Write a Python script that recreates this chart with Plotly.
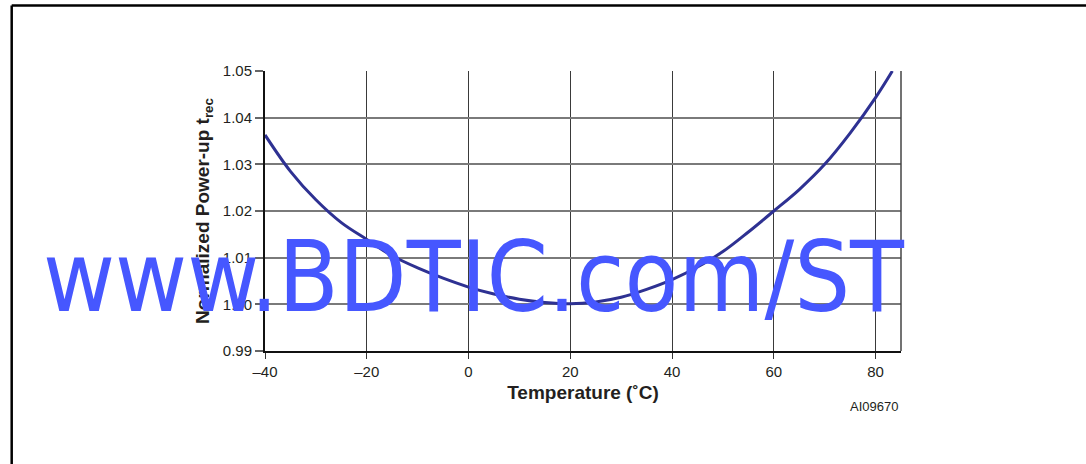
import plotly.graph_objects as go

# Data
temperature = [-40, -35, -30, -25, -20, -15, -10, -5, 0, 5, 10, 15, 20, 25, 30,
               35, 40, 45, 50, 55, 60, 65, 70, 75, 80, 83.3]
norm_trec = [1.0363, 1.0285, 1.0224, 1.0175, 1.0139, 1.0104, 1.0078, 1.0056,
             1.0037, 1.0022, 1.0011, 1.0004, 1.0001, 1.0005, 1.0015, 1.0032,
             1.0053, 1.0080, 1.0113, 1.0155, 1.0200, 1.0246, 1.0300, 1.0367,
             1.0443, 1.0500]
x_ticks = [-40, -20, 0, 20, 40, 60, 80]
x_tick_text = ["\u201340", "\u201320", "0", "20", "40", "60", "80"]
y_ticks = [0.99, 1.00, 1.01, 1.02, 1.03, 1.04, 1.05]
y_tick_text = ["0.99", "1.00", "1.01", "1.02", "1.03", "1.04", "1.05"]

W, H = 1086, 464
L, R, T, B = 264.5, 901, 71, 351

def px(x):
    return (x - L) / (R - L)

def py(y):
    return (B - y) / (B - T)

fig = go.Figure()
fig.add_trace(go.Scatter(
    x=temperature, y=norm_trec, mode="lines",
    line=dict(color="#2E3192", width=3, shape="spline", smoothing=1.0),
    hoverinfo="skip", showlegend=False))

font_main = "Liberation Sans, Arial, Helvetica, sans-serif"
fig.update_layout(
    width=W, height=H,
    margin=dict(l=L, r=W - R, t=T, b=H - B, pad=0),
    paper_bgcolor="white", plot_bgcolor="white",
    font=dict(family=font_main, color="#231F20", size=15),
    xaxis=dict(range=[-40, 85], tickvals=x_ticks, ticktext=x_tick_text,
               showgrid=True, gridcolor="#3a3a3a", gridwidth=1,
               zeroline=False, showline=True, linecolor="#111", linewidth=2,
               ticks="outside", ticklen=6, tickcolor="#333", tickwidth=1,
               tickfont=dict(size=15, color="#231F20"),
               title=dict(text="<b>Temperature (\u02daC)</b>", font=dict(size=19), standoff=7)),
    yaxis=dict(range=[0.99, 1.05], tickvals=y_ticks, ticktext=y_tick_text,
               showgrid=True, gridcolor="#7a7a7a", gridwidth=1.5,
               zeroline=False, showline=True, linecolor="#111", linewidth=2,
               ticks="outside", ticklen=8, tickcolor="#666", tickwidth=1.5,
               tickfont=dict(size=15, color="#231F20"),
               title=dict(text="<b>Normalized Power-up t<sub>rec</sub></b>", font=dict(size=19), standoff=8)),
    shapes=[
        dict(type="line", xref="paper", yref="paper", x0=1, x1=1, y0=0, y1=1,
             line=dict(color="#444", width=1.5)),
        dict(type="line", xref="paper", yref="paper", x0=px(11), x1=px(11), y0=py(5.5), y1=py(470),
             line=dict(color="black", width=2.5)),
        dict(type="line", xref="paper", yref="paper", x0=px(11), x1=px(1090), y0=py(5.5), y1=py(5.5),
             line=dict(color="black", width=2.5)),
    ],
    annotations=[
        dict(text="AI09670", xref="paper", yref="paper", x=px(900), y=py(406),
             xanchor="right", yanchor="middle", showarrow=False,
             font=dict(size=13, color="#231F20")),
        dict(text="www.BDTIC.com/ST", xref="paper", yref="paper", x=px(473.5), y=py(277),
             xanchor="center", yanchor="middle", showarrow=False,
             font=dict(size=98, color="#4657FF",
                       family="Liberation Sans Narrow, Arial Narrow, DejaVu Sans Condensed, sans-serif")),
    ],
)

fig.write_html("out.html", config={"displayModeBar": False},
               post_script="document.body.style.margin='0px';")
